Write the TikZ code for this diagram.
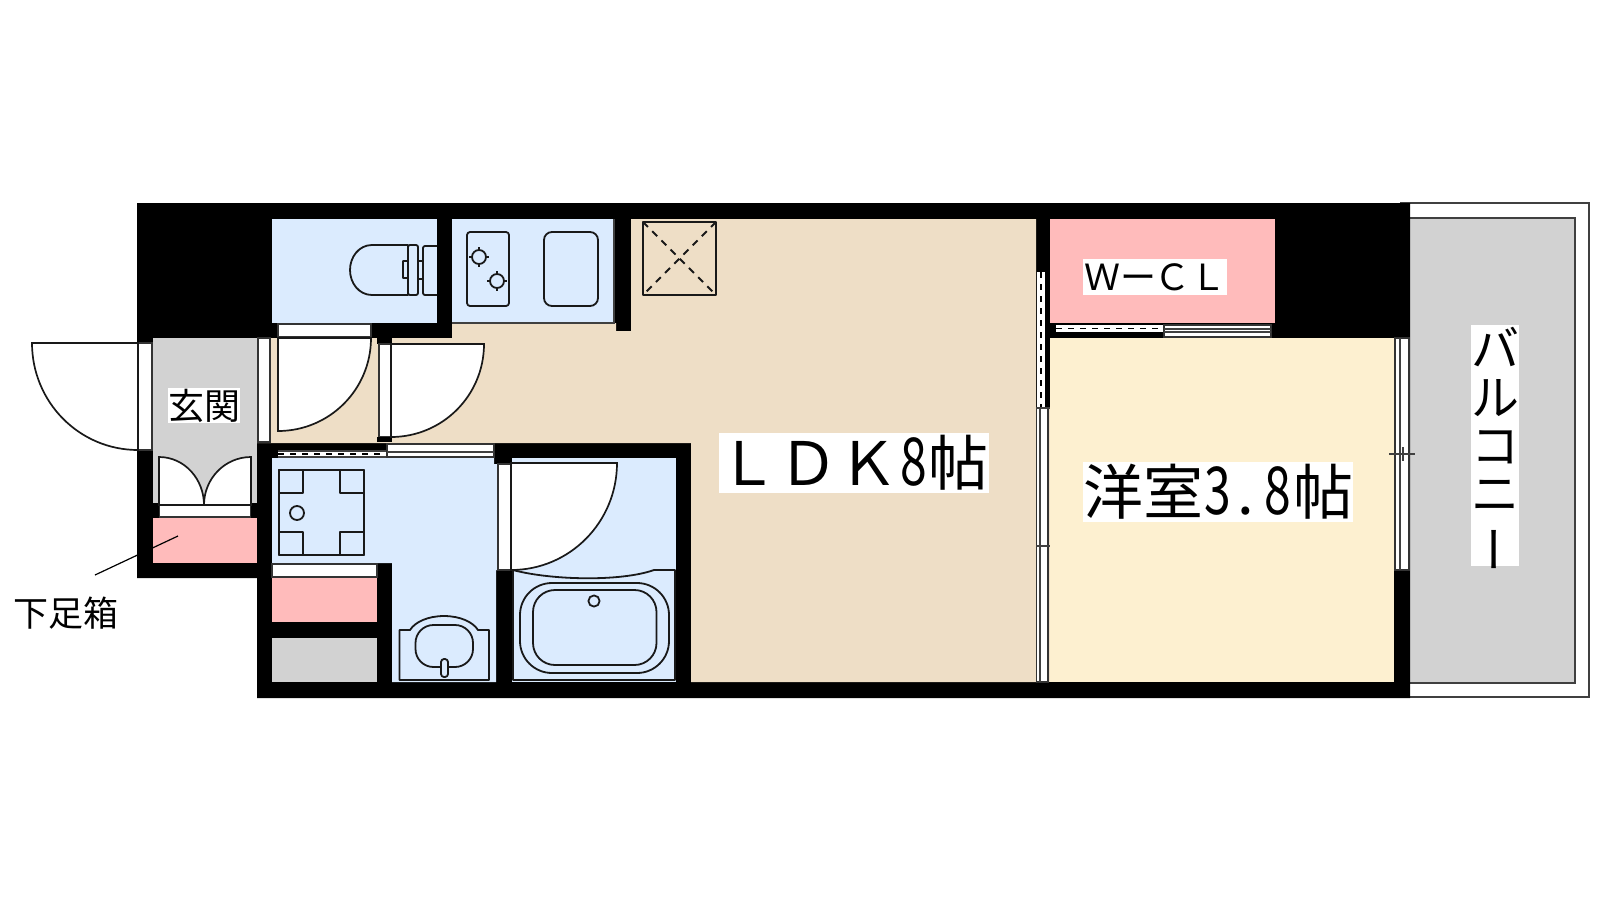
\documentclass[tikz,border=0pt]{standalone}
\usepackage{fontspec}
\setmainfont{Noto Sans CJK JP}
\definecolor{bathblue}{RGB}{219,235,254}
\definecolor{ldkbeige}{RGB}{238,222,198}
\definecolor{roomyellow}{RGB}{253,240,208}
\definecolor{closetpink}{RGB}{255,187,187}
\definecolor{floorgray}{RGB}{210,210,210}
\newcommand{\halfw}[1]{\makebox[.5em]{\scalebox{.8}[1.1]{#1}}}
\tikzset{
  wall/.style      = {fill=black, draw=none},
  fixture/.style   = {draw=black!90, line width=.9pt, line join=round},
  doorframe/.style = {draw=black!80, fill=white, line width=.6pt},
  doorleaf/.style  = {draw=black!90, fill=white, line width=.85pt},
  thinline/.style  = {draw=black!75, line width=.6pt},
  slide/.style     = {draw=black, line width=.8pt, dash pattern=on 3pt off 3pt},
  roomlabel/.style = {fill=white, inner sep=0pt, align=center},
  biglabel/.style  = {roomlabel, font=\fontsize{30pt}{30pt}\selectfont},
  smalllabel/.style= {roomlabel, font=\fontsize{18pt}{18pt}\selectfont}
}
\begin{document}
\begin{tikzpicture}[x=.5pt, y=-.5pt]
\useasboundingbox (0,0) rectangle (1600,900);

% balcony behind the wall
\draw[thinline, fill=white] (1401,203) rectangle (1589,697);
\fill[floorgray] (1410,218) rectangle (1575,683);
\draw[thinline] (1410,218) -- (1575,218) -- (1575,683) -- (1410,683);

% outline of the walls, the rooms go on top
\fill[wall] (137,203) -- (1410,203) -- (1410,698) -- (257,698) -- (257,578) -- (137,578) -- cycle;

% rooms
\fill[ldkbeige] (631,219) -- (1036,219) -- (1036,682) -- (691,682) -- (691,443) -- (257,443)
  -- (257,338) -- (452,338) -- (452,323) -- (616,323) -- (616,331) -- (631,331) -- cycle;
\fill[wall] (377,338) rectangle (392,344);
\fill[bathblue] (272,219) rectangle (437,323);
\fill[bathblue] (452,219) rectangle (614,323);
\draw[thinline] (452,323) -- (614,323) -- (614,219);
\fill[floorgray] (153,338) rectangle (257,505);
\fill[closetpink] (153,518) rectangle (257,563);
\fill[bathblue] (272,458) -- (494,458) -- (494,464) -- (498,464) -- (498,570) -- (496,570)
  -- (496,682) -- (392,682) -- (392,563) -- (272,563) -- cycle;
\fill[closetpink] (272,578) rectangle (377,622);
\fill[floorgray] (272,638) rectangle (377,682);
\fill[bathblue] (512,458) rectangle (676,682);
\fill[closetpink] (1050,219) rectangle (1275,323);
\fill[roomyellow] (1050,338) rectangle (1394,682);

% door frames
\draw[doorframe] (138,343) rectangle (152,450);
\draw[doorframe] (258,338) rectangle (270,442);
\draw[doorframe] (278,324) rectangle (371,337);
\draw[doorframe] (379,344) rectangle (391,437);
\draw[doorframe] (159,505) rectangle (251,517);
\draw[doorframe] (272,564) rectangle (377,577);
\draw[doorframe] (498,464) rectangle (511,570);
\fill[wall] (377,437) rectangle (392,442);
\fill[wall] (153,503) rectangle (159,518);
\fill[wall] (251,503) rectangle (257,518);

% door leaves
\draw[doorleaf] (138,343) -- (32,343) to[out=-90,in=180] (138,450) -- cycle;
\draw[doorleaf] (278,338) -- (278,431) to[out=0,in=-90] (371,338) -- cycle;
\draw[doorleaf] (391,344) -- (484,344) to[out=-90,in=0] (391,437) -- cycle;
\draw[doorleaf] (511,463) -- (617,463) to[out=-90,in=0] (511,570) -- cycle;
\draw[doorleaf] (159,505) -- (159,457) to[out=0,in=90] (204,505) -- cycle;
\draw[doorleaf] (251,505) -- (251,457) to[out=180,in=90] (204,505) -- cycle;

% sliding doors
\fill[white] (278,451) rectangle (387,457);
\draw[thinline] (278,451) -- (387,451) (278,457) -- (387,457);
\draw[slide] (278,454) -- (387,454);
\draw[doorframe] (387,444) rectangle (494,457);
\draw[thinline] (387,452) -- (494,452);
\fill[white] (1056,325) rectangle (1164,332);
\draw[slide] (1056,328.5) -- (1164,328.5);
\draw[doorframe] (1164,325) rectangle (1271,337);
\draw[thinline] (1164,329) -- (1271,329) (1164,332) -- (1271,332);
\fill[white] (1037,272) rectangle (1045,408);
\draw[slide] (1041,272) -- (1041,408);
\draw[doorframe] (1036.5,408) rectangle (1048,682);
\fill[ldkbeige] (1048.5,408) rectangle (1050,682);
\draw[thinline] (1040,408) -- (1040,682);
\draw[thinline] (1036,408) -- (1050,408) (1036,546) -- (1050,546);

% window to the balcony
\draw[doorframe] (1395,338) rectangle (1409,570);
\draw[thinline] (1400,338) -- (1400,570);
\draw[thinline] (1389,454) -- (1415,454) (1400,447) -- (1400,461) (1403,447) -- (1403,461);

% toilet
\draw[fixture] (408,245) -- (372,245) to[out=180,in=90] (350,270) to[out=-90,in=180] (372,295) -- (408,295)
  -- (408,278) -- (403,278) -- (403,261) -- (408,261) -- cycle;
\draw[fixture, rounded corners=1pt] (408,245) rectangle (418,295);
\draw[fixture, rounded corners=1pt] (437,246) -- (423,246) -- (423,295) -- (437,295);
\draw[fixture] (418,261) -- (423,261) (418,279) -- (423,279);

% kitchen
\draw[fixture, rounded corners=1.5pt] (467,232) rectangle (509,306);
\foreach \cx/\cy in {479/257, 497/281} {
  \draw[fixture] (\cx,\cy) circle[radius=3.5pt];
  \draw[fixture] (\cx-10,\cy) -- (\cx-7,\cy) (\cx+7,\cy) -- (\cx+10,\cy) (\cx,\cy-10) -- (\cx,\cy-7) (\cx,\cy+7) -- (\cx,\cy+10);
}
\draw[fixture, rounded corners=4pt] (544,232) rectangle (598,306);
\draw[fixture] (643,222) rectangle (716,295);
\draw[fixture, dash pattern=on 3.5pt off 3pt] (643,222) -- (716,295) (716,222) -- (643,295);

% washing machine
\draw[fixture] (279,470) rectangle (364,555);
\foreach \bx/\by in {279/470, 340/470, 279/532, 340/532}
  \draw[fixture] (\bx,\by) rectangle (\bx+24,\by+23);
\draw[fixture] (297,513) circle[radius=3.5pt];

% basin
\draw[fixture] (399.5,680) -- (399.5,630) -- (410,630) .. controls (415,622) and (428,616) .. (444,616)
  .. controls (460,616) and (473,622) .. (478,630) -- (489,630) -- (489,680) -- cycle;
\draw[fixture, rounded corners=9pt] (415.5,625) rectangle (473,667);
\draw[fixture, fill=bathblue, rounded corners=1.5pt] (441,677) rectangle (448,659);

% bath
\draw[fixture] (513,570) .. controls (550,580) and (620,582) .. (654,570) -- (675,570) -- (675,680) -- (513,680) -- cycle;
\draw[fixture, rounded corners=16pt] (520,583) rectangle (669,673);
\draw[fixture, rounded corners=11pt] (533,590) rectangle (656.5,665);
\draw[fixture] (594,601) circle[radius=2.8pt];

% texts
\node[smalllabel, minimum width=36pt, minimum height=17.5pt] (genkan) at (204,405.5) {玄関};
\node[inner sep=0pt, font=\fontsize{17.5pt}{17.5pt}\selectfont] (getabako) at (66,613.5) {下足箱};
\node[smalllabel, minimum width=72pt, minimum height=18pt] (wcl) at (1155,277) {Ｗー\hspace{-1pt}ＣＬ};
\node[biglabel, minimum width=134.5pt, minimum height=30pt] (ldk) at (853.5,463) {ＬＤＫ\halfw{8}帖};
\node[biglabel, minimum width=134.5pt, minimum height=30pt] (youshitsu) at (1218,492) {洋室\halfw{3}\makebox[.5em][l]{\hspace{.08em}.}\halfw{8}帖};
\node[roomlabel, minimum width=24pt, minimum height=119pt, font=\fontsize{24pt}{24.2pt}\selectfont] (balcony) at (1495,445.5)
  {\rule{0pt}{21pt}\smash{バ}\\\smash{ル}\\\smash{コ}\\\smash{ニ}\\\hspace{6.6pt}\smash{\rotatebox[origin=c]{90}{ー}}\rule[-3pt]{0pt}{3pt}};

% leader of the shoe box
\coordinate (shoetip) at (178,536);
\coordinate (shoefoot) at (95,575);
\draw[thinline, draw=black] (shoefoot) -- (shoetip);
\end{tikzpicture}
\end{document}
